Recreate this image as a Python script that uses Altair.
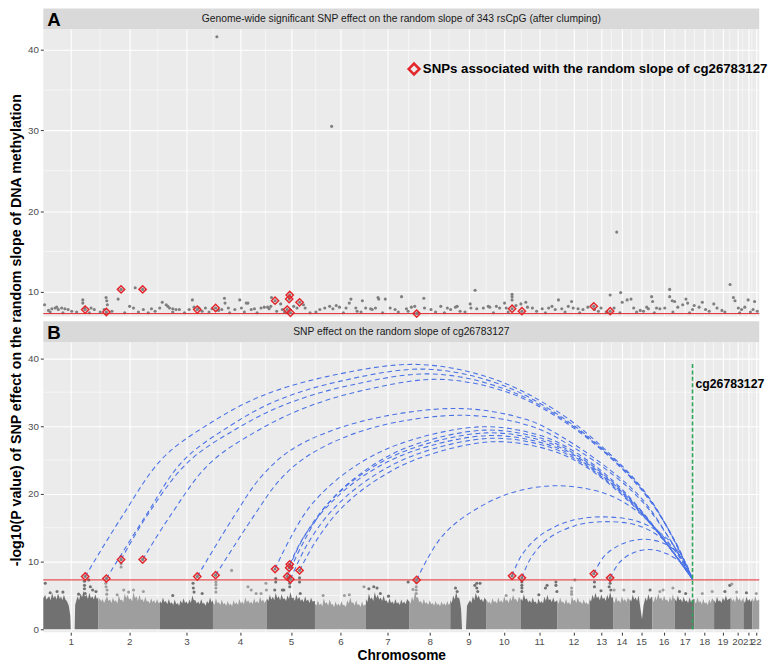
import altair as alt
import pandas as pd

# ---------------- chromosome layout (cumulative position units) ----------------
chrom_bounds = [38, 94, 157, 211, 266, 315, 367, 411, 453, 490, 525, 562, 595,
                619, 636, 659, 682, 702, 722, 739, 752, 761, 768]
chrom_labels = [str(i) for i in range(1, 23)]

threshold = 7.3
cpg_x = 700
cpg_top = 39.2
cpg_name = "cg26783127"

title_a = "Genome-wide significant SNP effect on the random slope of 343 rsCpG (after clumping)"
title_b = "SNP effect on the random slope of cg26783127"
legend_text = "SNPs associated with the random slope of cg26783127"
y_title = "-log10(P value) of SNP effect on the random slope of DNA methylation"

# ---------------- panel A: genome-wide significant SNPs ----------------
a_x = [39.3, 43.3, 46.7, 50, 51.7, 53.3, 56.7, 60, 63.3, 78.3, 78.3, 80, 86.7, 90,
       102, 102.7, 103.3, 100, 114.3, 126, 130, 131.7, 140, 148.3, 156.7, 159.3,
       163.3, 165, 166.7, 170, 173.3, 176.7, 186.7, 190, 191.7, 196.7, 203.3, 210,
       216.7, 220, 222.7, 223.3, 226.7, 233.3, 238.3, 240, 245, 246.7, 250, 253.3,
       260, 263.3, 266.7, 268.3, 270, 270.7, 280, 281.7, 293.3, 296.7, 303.3, 305,
       320, 325, 330, 333.3, 336.7, 340, 346.7, 350, 351.7, 356.7, 363.3, 366.7,
       371.7, 373.3, 376.7, 379.3, 380, 386.7, 391.7, 396.7,
       403.3, 408.3, 413.3, 416.7, 426, 426.7, 433.3, 443.3, 450, 453.3, 458.3, 460,
       473.3, 474, 478.3, 480, 486.7, 491.7, 493.3, 500, 503.3, 508.3, 510, 516, 516,
       516, 520, 525, 530, 531.7, 536.7, 546.7, 553.3, 556.7, 560, 563.3, 566.7,
       573.3, 576.7, 578.3, 583.3, 588.3, 593.3, 600, 606.7, 616, 620, 622.7, 626.7,
       628.3, 633.3, 637.3, 640, 646.7, 653.3, 655, 658.3, 659.3, 663.3, 666.7,
       671.7, 676.7, 676.7, 679.3, 681.7, 685, 690, 693.3, 695, 700, 701.7, 706.7,
       710, 713.3, 721.7, 725, 730, 738.3, 741.7, 743.3, 746.7, 750, 753.3, 756.7,
       761.7, 763.3, 215, 332]
a_y = [8.4, 7.7, 7.9, 8.0, 8.1, 7.8, 8.0, 7.9, 7.8, 9.0, 8.6, 8.0, 8.0, 7.8,
       9.3, 8.9, 8.4, 7.8, 9.1, 8.2, 8.0, 10.5, 7.8, 7.9, 8.0, 8.7,
       8.4, 8.2, 8.0, 7.9, 7.8, 7.8, 7.8, 9.0, 8.1, 8.0, 8.0, 7.9,
       7.7, 7.8, 9.2, 8.6, 8.0, 7.8, 9.0, 8.0, 8.6, 8.6, 7.8, 7.9,
       8.0, 8.1, 8.1, 7.9, 8.2, 9.3, 8.5, 7.8, 8.2, 8.0, 8.4, 8.0,
       7.8, 8.0, 8.2, 7.9, 8.3, 8.1, 8.0, 8.6, 9.1, 8.0, 8.9, 8.0,
       7.9, 7.8, 8.0, 9.3, 9.1, 9.1, 8.0, 7.8,
       9.4, 7.9, 8.1, 8.2, 9.2, 8.0, 7.8, 8.2, 8.0, 7.8, 8.1, 8.2,
       8.5, 8.0, 10.2, 7.9, 8.0, 8.2, 8.1, 8.2, 8.0, 8.6, 8.0, 9.7, 9.4,
       9.0, 8.3, 8.5, 8.7, 8.1, 8.0, 7.9, 8.0, 8.2, 7.8, 9.0, 7.9,
       8.2, 8.8, 8.0, 7.9, 7.8, 8.1, 7.8, 8.0, 9.6, 8.0, 17.4, 9.9,
       8.7, 9.0, 9.1, 8.0, 7.7, 8.1, 7.9, 9.4, 8.8, 8.0, 7.9,
       8.0, 10.3, 9.4, 8.9, 8.8, 8.1, 8.4, 9.1, 8.6, 7.8, 8.3, 8.1,
       8.7, 7.8, 8.5, 8.0, 7.7, 10.9, 9.3, 8.9, 8.0, 7.8, 8.1, 9.0,
       7.8, 8.8, 41.6, 30.5]
a_low_x = [45, 58, 67, 72, 85, 96, 108, 121, 135, 145, 152, 170, 182, 200, 207,
           228, 243, 256, 276, 284, 310, 316, 344, 358, 362, 384, 400, 410, 420,
           438, 447, 463, 468, 497, 512, 541, 550, 570, 585, 604, 612, 626, 643,
           650, 661, 680, 697, 717, 733, 748, 759, 766]
a_low_y = [7.5, 7.4, 7.6, 7.5, 7.4, 7.5, 7.6, 7.4, 7.5, 7.4, 7.6, 7.5, 7.4, 7.6, 7.5,
           7.4, 7.5, 7.4, 7.6, 7.5, 7.4, 7.5, 7.4, 7.6, 7.5, 7.4, 7.5, 7.6, 7.4,
           7.5, 7.4, 7.6, 7.5, 7.4, 7.5, 7.6, 7.4, 7.5, 7.4, 7.6, 7.5, 7.4, 7.5,
           7.6, 7.4, 7.5, 7.4, 7.6, 7.5, 7.4, 7.5, 7.6]

# SNPs associated with cg26783127 (red diamonds, both panels)
hit_x = [80.7, 102.3, 117.3, 139.3, 195, 213.7, 274.3, 286.7, 288.7, 289.3, 290,
         299.3, 418.7, 516, 526, 599.3, 616]
hit_y = [7.8, 7.5, 10.3, 10.3, 7.8, 8.0, 8.9, 7.8, 9.1, 9.6, 7.4, 8.7, 7.3, 7.9,
         7.6, 8.2, 7.6]

legend_pos = (416, 37.6)

# ---------------- panel B: Manhattan plot of cg26783127 ----------------
mass_c1 = [(38, 4.6), (40, 5.1), (41, 4.4), (44, 4.9), (45.5, 4.3), (47, 5.4), (48.5, 4.6), (50, 5.0),
           (51.5, 4.4), (53, 5.3), (55, 4.5), (56, 4.9), (57.5, 4.3), (59, 5.1), (60.5, 4.4),
           (62, 4.2), (64, 3.5), (65.5, 2.0), (66, 0), (70, 0), (70.5, 3.6), (72, 4.4), (73, 4.9),
           (74.5, 4.3), (76, 5.3), (77.5, 4.7), (79, 5.7), (80.5, 4.8), (82, 5.1), (83.5, 4.5),
           (85, 5.4), (86.5, 4.6), (88, 4.9), (89.5, 4.4), (91, 5.2), (92.5, 4.5), (94, 4.7)]
mass_c2 = [(94, 4.2), (95.5, 4.6), (97, 4.1), (98.5, 4.5), (100, 3.9), (101.5, 4.4), (103, 4.9),
           (104.5, 4.2), (106, 4.4), (107.5, 3.9), (109, 4.7), (110.5, 4.1), (112, 4.3), (113.5, 3.8),
           (115, 5.0), (116.5, 4.3), (118, 4.4), (119.5, 4.0), (121, 5.3), (122.5, 4.6), (124, 5.1),
           (125.5, 4.4), (127, 4.6), (128.5, 4.1), (130, 5.5), (131.5, 4.6), (133, 4.9), (134.5, 4.2),
           (136, 5.1), (137.5, 4.3), (139, 4.5), (140.5, 4.0), (142, 4.8), (143.5, 4.1), (145, 4.2),
           (146.5, 3.8), (148, 4.6), (149.5, 4.0), (151, 4.3), (152.5, 3.8), (154, 4.5), (155.5, 3.9),
           (157, 4.0)]
mass_c3 = [(157, 4.2), (158.5, 3.8), (160, 4.7), (161.5, 4.0), (163, 4.2), (164.5, 3.7), (166, 4.5),
           (167.5, 3.8), (169, 4.0), (170.5, 3.6), (172, 4.4), (173.5, 3.7), (175, 3.9), (176.5, 3.5),
           (178, 4.3), (179.5, 3.8), (181, 4.6), (182.5, 3.9), (184, 4.1), (185.5, 3.7), (187, 4.4),
           (188.5, 3.9), (190, 5.0), (191.5, 4.3), (193, 4.3), (194.5, 3.8), (196, 4.1), (197.5, 3.7),
           (199, 4.5), (200.5, 3.8), (202, 3.9), (203.5, 3.5), (205, 4.2), (206.5, 3.8), (208, 4.7),
           (209.5, 4.0), (211, 4.3)]
mass_c4 = [(211, 4.0), (212.5, 3.6), (214, 4.6), (215.5, 3.9), (217, 4.0), (218.5, 3.6), (220, 4.4),
           (221.5, 3.7), (223, 3.9), (224.5, 3.5), (226, 4.2), (227.5, 3.6), (229, 3.8), (230.5, 3.4),
           (232, 4.3), (233.5, 3.7), (235, 4.0), (236.5, 3.6), (238, 4.5), (239.5, 3.8), (241, 4.1),
           (242.5, 3.7), (244, 4.7), (245.5, 4.0), (247, 4.3), (248.5, 3.8), (250, 4.1), (251.5, 3.7),
           (253, 4.6), (254.5, 3.9), (256, 4.2), (257.5, 3.8), (259, 4.8), (260.5, 4.1), (262, 4.4),
           (263.5, 3.9), (266, 4.5)]
mass_c5 = [(266, 4.6), (267.5, 4.2), (269, 5.1), (270.5, 4.4), (272, 4.8), (273.5, 4.3), (275, 5.4),
           (276.5, 4.6), (278, 4.9), (279.5, 4.3), (281, 5.2), (282.5, 4.5), (284, 4.6), (285.5, 4.2),
           (287, 5.0), (288.5, 4.5), (290, 5.5), (291.5, 4.6), (293, 4.7), (294.5, 4.2), (296, 5.1),
           (297.5, 4.4), (299, 4.8), (300.5, 4.2), (302, 4.5), (303.5, 4.0), (305, 4.9), (306.5, 4.2),
           (308, 4.4), (309.5, 3.9), (311, 4.7), (312.5, 4.1), (315, 4.2)]
mass_c6 = [(315, 3.8), (316.5, 3.5), (318, 4.3), (319.5, 3.6), (321, 3.8), (322.5, 3.4), (324, 4.6),
           (325.5, 3.8), (327, 4.0), (328.5, 3.5), (330, 4.4), (331.5, 3.7), (333, 3.7), (334.5, 3.3),
           (336, 4.1), (337.5, 3.5), (339, 3.8), (340.5, 3.4), (342, 4.2), (343.5, 3.6), (345, 3.6),
           (346.5, 3.3), (348, 4.3), (349.5, 3.8), (351, 4.7), (352.5, 3.9), (354, 4.0), (355.5, 3.5),
           (357, 4.3), (358.5, 3.6), (360, 3.7), (361.5, 3.3), (363, 4.1), (364.5, 3.5), (367, 3.7)]
mass_c7 = [(367, 4.5), (368.5, 4.0), (370, 5.3), (371.5, 4.5), (373, 4.7), (374.5, 4.2), (376, 5.5),
           (377.5, 4.6), (379, 5.1), (380.5, 4.4), (382, 4.7), (383.5, 4.2), (385, 5.0), (386.5, 4.2),
           (388, 4.3), (389.5, 3.8), (391, 4.6), (392.5, 3.9), (394, 4.1), (395.5, 3.7), (397, 4.5),
           (398.5, 3.8), (400, 4.0), (401.5, 3.6), (403, 4.4), (404.5, 3.8), (406, 4.1), (407.5, 3.7),
           (409, 4.5), (411, 4.1)]
mass_c8 = [(411, 4.2), (412.5, 3.8), (414, 4.8), (415.5, 4.2), (417, 5.5), (418.5, 4.7), (420, 4.7),
           (421.5, 4.0), (423, 4.2), (424.5, 3.7), (426, 4.5), (427.5, 3.8), (429, 4.0), (430.5, 3.6),
           (432, 4.3), (433.5, 3.7), (435, 3.9), (436.5, 3.5), (438, 4.2), (439.5, 3.6), (441, 3.8),
           (442.5, 3.4), (444, 4.1), (445.5, 3.6), (447, 3.9), (448.5, 3.5), (450, 4.2), (451.5, 3.6),
           (453, 3.9)]
mass_c9 = [(453, 4.3), (454.5, 3.9), (456, 5.0), (457.5, 4.4), (459, 5.5), (460.5, 4.6), (462, 4.7),
           (463, 4.0), (464, 3.0), (465, 0), (469, 0), (470, 3.5), (471.5, 3.9), (473, 4.3), (474.5, 3.9),
           (476, 4.9), (477.5, 4.3), (479, 5.4), (480.5, 4.6), (482, 5.0), (483.5, 4.3), (485, 4.5),
           (486.5, 4.0), (488, 4.7), (490, 4.2)]
mass_c10 = [(490, 4.4), (491.5, 3.9), (493, 4.1), (494.5, 3.7), (496, 4.6), (497.5, 4.0), (499, 4.2),
            (500.5, 3.8), (502, 4.7), (503.5, 4.0), (505, 4.3), (506.5, 3.9), (508, 4.9), (509.5, 4.2),
            (511, 4.4), (512.5, 3.9), (514, 4.7), (515.5, 4.2), (517, 5.1), (518.5, 4.4), (520, 4.5),
            (521.5, 4.0), (523, 4.8), (525, 4.3)]
mass_c11 = [(525, 4.6), (526.5, 4.2), (528, 5.2), (529.5, 4.4), (531, 4.6), (532.5, 4.0), (534, 4.3),
            (535.5, 3.9), (537, 4.7), (538.5, 4.0), (540, 4.1), (541.5, 3.7), (543, 4.6), (544.5, 3.9),
            (546, 4.2), (547.5, 3.8), (549, 4.8), (550.5, 4.2), (552, 5.1), (553.5, 4.3), (555, 4.5),
            (556.5, 4.0), (558, 4.7), (559.5, 4.0), (562, 4.3)]
mass_c12 = [(562, 4.2), (563.5, 3.8), (565, 4.7), (566.5, 4.0), (568, 4.1), (569.5, 3.7), (571, 4.5),
            (572.5, 3.8), (574, 4.0), (575.5, 3.6), (577, 4.9), (578.5, 4.2), (580, 4.4), (581.5, 3.9),
            (583, 4.7), (584.5, 4.0), (586, 4.1), (587.5, 3.7), (589, 4.4), (590.5, 3.8), (592, 4.0),
            (593.5, 3.6), (595, 4.2)]
mass_c13 = [(595, 4.5), (596.5, 4.1), (598, 5.1), (599.5, 4.5), (601, 5.4), (602.5, 4.6), (604, 4.9),
            (605.5, 4.3), (607, 5.2), (608.5, 4.5), (610, 4.7), (611.5, 4.2), (613, 5.1), (614.5, 4.5),
            (616, 5.5), (617.5, 4.6), (619, 4.8)]
mass_c14 = [(619, 4.3), (620.5, 3.9), (622, 4.8), (623.5, 4.1), (625, 4.3), (626.5, 3.9), (628, 4.9),
            (629.5, 4.2), (631, 4.5), (632.5, 4.0), (634, 4.7), (636, 4.2)]
mass_c15 = [(636, 4.5), (637.5, 4.1), (639, 5.1), (640.5, 4.4), (642, 4.7), (643.5, 4.2), (645, 5.0),
            (646, 4.0), (647, 3.0), (648.5, 1.5), (650, 3.5), (651, 4.1), (652, 4.7), (653.5, 4.2),
            (655, 5.2), (656.5, 4.4), (658, 4.8), (659, 4.7)]
mass_c16 = [(659, 4.4), (660.5, 4.0), (662, 4.9), (663.5, 4.3), (665, 5.3), (666.5, 4.5), (668, 4.7),
            (669.5, 4.2), (671, 5.0), (672.5, 4.3), (674, 4.4), (675.5, 4.0), (677, 4.8), (678.5, 4.2),
            (680, 5.2), (681, 4.5), (682, 4.6)]
mass_c17 = [(682, 4.5), (683.5, 4.1), (685, 5.0), (686.5, 4.3), (688, 4.5), (689.5, 4.0), (691, 4.8),
            (692.5, 4.1), (694, 4.3), (695.5, 3.9), (697, 4.7), (698.5, 4.0), (700, 4.4), (702, 4.5)]
mass_c18 = [(702, 4.2), (703.5, 3.8), (705, 4.7), (706.5, 4.0), (708, 4.2), (709.5, 3.7), (711, 4.5),
            (712.5, 3.8), (714, 4.0), (715.5, 3.6), (717, 4.4), (718.5, 3.9), (720, 4.6), (722, 4.2)]
mass_c19 = [(722, 4.3), (723.5, 3.9), (725, 4.8), (726.5, 4.1), (728, 4.3), (729.5, 3.9), (731, 4.7),
            (732.5, 4.2), (734, 5.0), (735.5, 4.3), (737, 4.5), (739, 4.6)]
mass_c20 = [(739, 4.8), (740.5, 4.2), (742, 4.5), (743.5, 4.0), (745, 5.0), (746.5, 4.3), (748, 4.6),
            (749.5, 4.1), (752, 4.7)]
mass_c21 = [(752, 4.3), (753.5, 3.9), (755, 4.8), (756.5, 4.2), (758, 4.5), (759.5, 4.0), (761, 4.6)]
mass_c22 = [(761, 4.5), (762.5, 4.1), (764, 4.9), (765.5, 4.2), (768, 4.4)]
mass_all = [mass_c1, mass_c2, mass_c3, mass_c4, mass_c5, mass_c6, mass_c7, mass_c8, mass_c9,
            mass_c10, mass_c11, mass_c12, mass_c13, mass_c14, mass_c15, mass_c16, mass_c17,
            mass_c18, mass_c19, mass_c20, mass_c21, mass_c22]

b_pts_x = [40, 45, 52, 58, 74, 80, 80, 80, 80.7, 84.3, 86, 88.3, 91.7,
           101.7, 102, 103, 102.7, 117.3, 117.3, 113.3, 125, 130, 140, 120,
           190.7, 191, 191.7, 200, 170,
           214, 214, 214, 214, 230, 246.7, 250, 265, 265.5, 260, 255,
           275, 275, 274, 281.7, 283.3, 289.3, 289.3, 299.3, 299.3, 300,
           323.3, 350, 345, 365,
           370, 375, 378.3, 381.7, 390, 410,
           415, 418.3, 418.3, 418.3, 418.3,
           458.3, 460, 478, 480, 480, 481, 483.3,
           510, 517.3, 526, 526, 526, 526,
           543.3, 551.7, 550, 560.7, 560.7, 561.7,
           580, 576.7, 576.7, 576.7,
           600, 600, 606.7, 615, 616, 616.7,
           620, 630, 640, 656.7, 666.7, 670, 680, 686.7, 693,
           720, 710, 733, 738, 740, 745, 755, 765]
b_pts_y = [6.8, 5.4, 5.6, 5.5, 5.2, 7.1, 6.5, 6.0, 5.3, 7.3, 6.3, 5.8, 5.6,
           6.8, 6.3, 5.8, 5.2, 9.7, 9.2, 5.1, 5.5, 5.8, 5.6, 5.8,
           6.8, 6.1, 5.5, 5.3, 5.0,
           7.0, 6.6, 6.1, 5.5, 8.7, 6.3, 5.8, 6.8, 5.8, 5.3, 5.3,
           7.5, 7.0, 5.8, 5.8, 5.8, 6.8, 6.3, 7.6, 7.0, 5.3,
           5.0, 5.1, 5.0, 6.3,
           6.0, 6.3, 6.1, 5.3, 4.9, 7.0,
           5.9, 6.9, 6.3, 5.8, 5.3,
           6.1, 5.6, 6.5, 6.8, 6.1, 5.6, 6.8,
           5.0, 5.8, 7.0, 6.5, 6.1, 5.6,
           5.1, 6.5, 6.1, 7.0, 6.5, 5.6,
           7.3, 6.1, 5.6, 5.2,
           7.0, 6.3, 5.7, 6.3, 6.8, 5.8,
           5.8, 5.8, 5.6, 5.8, 5.6, 5.8, 6.1, 5.6, 5.3,
           5.6, 5.3, 5.6, 6.5, 6.7, 5.5, 5.4, 5.3]

# arcs (geom_curve connectors): SNP -> cg26783127
arc_01 = [(80.7, 7.8), (118, 16.6), (160, 25.3), (210, 30.6), (260, 34.4), (327, 37.3), (420, 39.1),
          (500, 36.8), (567, 31.7), (620, 25.3), (653, 20.0), (680, 13.5), (700, 7.4)]
arc_02 = [(102.3, 7.5), (141.7, 16.6), (180, 24.8), (228, 30.0), (275, 33.7), (340, 36.6), (428, 38.4),
          (505, 36.1), (570, 31.0), (622, 24.8), (655, 19.5), (681, 13.2), (700, 7.4)]
arc_03 = [(117.3, 10.3), (143, 16.6), (185, 24.6), (235, 29.6), (285, 33.2), (350, 36.0), (434, 37.7),
          (510, 35.4), (573, 30.5), (624, 24.4), (656, 19.2), (682, 13.0), (700, 7.4)]
arc_04 = [(139.3, 10.3), (166.7, 16.6), (207, 24.4), (255, 29.2), (305, 32.7), (365, 35.3), (442, 36.9),
          (515, 34.8), (576, 30.0), (626, 24.0), (657, 18.9), (683, 12.8), (700, 7.4)]
arc_05 = [(195, 7.8), (232, 16.6), (260, 22.5), (293, 26.7), (360, 30.6), (460, 32.6), (530, 31.0),
          (567, 28.4), (617, 23.4), (650, 19.0), (678, 13.0), (700, 7.4)]
arc_06 = [(213.7, 8.0), (252, 16.6), (280, 22.2), (312, 26.0), (375, 29.8), (467, 31.6), (535, 30.0),
          (570, 27.6), (619, 22.8), (651, 18.5), (679, 12.8), (700, 7.4)]
arc_07 = [(274.3, 8.9), (290, 13.5), (312, 18.5), (350, 23.5), (400, 27.3), (485, 29.9), (545, 28.6),
          (580, 26.2), (620, 21.8), (652, 16.8), (678, 11.8), (700, 7.4)]
arc_08 = [(286.7, 7.8), (303, 12.8), (325, 18.0), (360, 22.8), (408, 26.8), (488, 29.4), (548, 28.1),
          (582, 25.7), (622, 21.3), (653, 16.5), (679, 11.6), (700, 7.4)]
arc_09 = [(288.7, 9.1), (302, 13.2), (326, 18.2), (362, 22.8), (410, 26.5), (490, 29.0), (550, 27.7),
          (584, 25.3), (623, 21.0), (654, 16.3), (680, 11.5), (700, 7.4)]
arc_10 = [(289.3, 9.6), (303, 13.5), (328, 18.2), (365, 22.7), (413, 26.2), (492, 28.6), (552, 27.3),
          (586, 24.9), (624, 20.7), (655, 16.0), (680, 11.4), (700, 7.4)]
arc_11 = [(290, 7.4), (307, 12.5), (332, 17.5), (368, 22.0), (416, 25.7), (494, 28.2), (554, 26.9),
          (588, 24.5), (625, 20.4), (656, 15.8), (681, 11.3), (700, 7.4)]
arc_12 = [(299.3, 8.7), (315, 12.8), (340, 17.6), (375, 21.8), (422, 25.3), (497, 27.7), (556, 26.4),
          (590, 24.1), (626, 20.1), (657, 15.6), (681, 11.2), (700, 7.4)]
arc_13 = [(418.7, 7.3), (430, 10.5), (445, 13.8), (467, 16.6), (510, 19.9), (560, 21.2), (610, 20.1),
          (640, 17.8), (665, 14.5), (685, 11.0), (700, 7.4)]
arc_14 = [(516, 7.9), (526, 11.0), (545, 13.9), (575, 16.0), (610, 16.6), (645, 15.9), (670, 13.9),
          (688, 11.0), (700, 7.4)]
arc_15 = [(526, 7.6), (535, 10.5), (552, 13.3), (580, 15.3), (612, 15.9), (645, 15.3), (670, 13.3),
          (688, 10.6), (700, 7.4)]
arc_16 = [(599.3, 8.2), (610, 10.8), (628, 12.6), (650, 13.3), (672, 12.6), (690, 10.5), (700, 7.4)]
arc_17 = [(616, 7.6), (625, 9.8), (638, 11.2), (655, 11.8), (673, 11.2), (690, 9.6), (700, 7.4)]
arcs_all = [arc_01, arc_02, arc_03, arc_04, arc_05, arc_06, arc_07, arc_08, arc_09, arc_10,
            arc_11, arc_12, arc_13, arc_14, arc_15, arc_16, arc_17]

# ---------------- styling ----------------
W, HS, HA, HB = 730, 21, 293, 296
GAP = 5
FONT = "Liberation Sans"
BG = "#EBEBEB"
DARK, LIGHT = "#717171", "#9E9E9E"
RED = "#E3262B"
BLUE = "#4A72E6"
GREEN = "#2FA65A"
PAD = {"left": 0, "top": -6, "right": 2, "bottom": 0}

# ---------------- derived tables ----------------
centers = [(a + b) / 2 for a, b in zip(chrom_bounds[:-1], chrom_bounds[1:])]
minor_x = [(a + b) / 2 for a, b in zip(centers[:-1], centers[1:])]


def chrom_index(x):
    for i in range(22):
        if x < chrom_bounds[i + 1]:
            return i
    return 21


label_expr = "".join(f"datum.value < {b} ? '{lab}' : "
                     for b, lab in zip(chrom_bounds[1:-1], chrom_labels[:-1])) + f"'{chrom_labels[-1]}'"

dfA = pd.DataFrame({"x": a_x + a_low_x, "y": a_y + a_low_y})
dfHit = pd.DataFrame({"x": hit_x, "y": hit_y})
dfMinorX = pd.DataFrame({"x": minor_x})

mass_rows = []
for ci, prof in enumerate(mass_all):
    for x, y in prof:
        mass_rows.append({"x": x, "y": y, "chrom": ci + 1, "shade": "d" if ci % 2 == 0 else "l"})
dfMass = pd.DataFrame(mass_rows)

dfB = pd.DataFrame({"x": b_pts_x, "y": b_pts_y})
dfB["shade"] = ["d" if chrom_index(x) % 2 == 0 else "l" for x in b_pts_x]

arc_rows = []
for ai, arc in enumerate(arcs_all):
    for k, (x, y) in enumerate(arc):
        arc_rows.append({"x": x, "y": y, "arc": ai, "k": k})
dfArc = pd.DataFrame(arc_rows)

xscale = alt.Scale(domain=[chrom_bounds[0], chrom_bounds[-1]], nice=False, zero=False)
axisA = alt.Axis(values=centers, labels=False, ticks=False, domain=False, grid=True, title=None)
axisB = alt.Axis(values=centers, labelExpr=label_expr, labelOverlap=False, labelFlush=False,
                 grid=True, domain=False, title="Chromosome", titleFontSize=14,
                 titleFontWeight="bold", titleColor="black", titlePadding=2)
yscaleA = alt.Scale(domain=[6.95, 42.55], nice=False, zero=False)
yscaleB = alt.Scale(domain=[-0.42, 42.42], nice=False, zero=False)
yaxisA = alt.Axis(values=[10, 20, 30, 40], grid=True, domain=False, title=None)
yaxisB = alt.Axis(values=[0, 10, 20, 30, 40], grid=True, domain=False, title=None)

XA = alt.X("x:Q", scale=xscale, axis=axisA)
YA = alt.Y("y:Q", scale=yscaleA, axis=yaxisA)
XB = alt.X("x:Q", scale=xscale, axis=axisB)
YB = alt.Y("y:Q", scale=yscaleB, axis=yaxisB)
YBarea = alt.Y("y:Q", scale=yscaleB, axis=yaxisB, stack=None)
shade_color = alt.Color("shade:N", scale=alt.Scale(domain=["d", "l"], range=[DARK, LIGHT]), legend=None)


def strip(title, letter, top_gap):
    d = pd.DataFrame({"t": [title], "l": [letter]})
    h = HS + top_gap
    rect = alt.Chart(d).mark_rect(color="#D9D9D9").encode(
        x=alt.value(0), x2=alt.value(W), y=alt.value(top_gap), y2=alt.value(h))
    txt = alt.Chart(d).mark_text(fontSize=10.5, color="#1A1A1A", font=FONT).encode(
        x=alt.value(W / 2), y=alt.value(top_gap + HS / 2), text="t:N")
    let = alt.Chart(d).mark_text(fontSize=19, fontWeight="bold", color="black", align="left",
                                 font=FONT).encode(
        x=alt.value(4), y=alt.value(top_gap + HS / 2 + 1), text="l:N")
    return alt.layer(rect, txt, let).properties(width=W, height=h)


# ---------------- panel A ----------------
minorA_v = alt.Chart(dfMinorX).mark_rule(color="white", strokeWidth=0.55).encode(x=XA)
minorA_h = alt.Chart(pd.DataFrame({"y": [15, 25, 35]})).mark_rule(color="white", strokeWidth=0.55).encode(y=YA)
threshA = alt.Chart(pd.DataFrame({"y": [threshold]})).mark_rule(color=RED, strokeWidth=1).encode(y=YA)
ptsA = alt.Chart(dfA).mark_circle(size=10, color="#7F7F7F", opacity=1).encode(x=XA, y=YA)
hitA_dot = alt.Chart(dfHit).mark_circle(size=10, color="#7F7F7F", opacity=1).encode(x=XA, y=YA)
hitA = alt.Chart(dfHit).mark_point(shape="diamond", filled=False, color=RED, strokeWidth=1.5,
                                   size=55, opacity=1).encode(x=XA, y=YA)
dfLeg = pd.DataFrame({"x": [legend_pos[0]], "y": [legend_pos[1]], "t": [legend_text]})
legD = alt.Chart(dfLeg).mark_point(shape="diamond", filled=False, color=RED, strokeWidth=2.6,
                                   size=120, opacity=1).encode(x=XA, y=YA)
legT = alt.Chart(dfLeg).mark_text(align="left", baseline="middle", dx=9, fontSize=13.5,
                                  fontWeight="bold", color="black", font=FONT).encode(x=XA, y=YA, text="t:N")
panelA = alt.layer(minorA_v, minorA_h, ptsA, threshA, hitA_dot, hitA, legD, legT).properties(
    width=W, height=HA, view=alt.ViewBackground(fill=BG, stroke=None))

# ---------------- panel B ----------------
minorB_v = alt.Chart(dfMinorX).mark_rule(color="white", strokeWidth=0.55).encode(x=XB)
minorB_h = alt.Chart(pd.DataFrame({"y": [5, 15, 25, 35]})).mark_rule(color="white", strokeWidth=0.55).encode(y=YB)
mass = alt.Chart(dfMass).mark_area(interpolate="linear", opacity=1).encode(
    x=XB, y=YBarea, color=shade_color, detail="chrom:N")
ptsB = alt.Chart(dfB).mark_circle(size=10, opacity=1).encode(x=XB, y=YB, color=shade_color)
threshB = alt.Chart(pd.DataFrame({"y": [threshold]})).mark_rule(color=RED, strokeWidth=1).encode(y=YB)
arcs = alt.Chart(dfArc).mark_line(interpolate="catmull-rom", strokeDash=[5, 3.5], strokeWidth=1.1,
                                  color=BLUE).encode(x=XB, y=YB, detail="arc:N", order=alt.Order("k:Q"))
dfCpg = pd.DataFrame({"x": [cpg_x], "y": [0], "y2": [cpg_top], "ty": [36.2], "t": [cpg_name]})
green = alt.Chart(dfCpg).mark_rule(color=GREEN, strokeDash=[4, 2.5], strokeWidth=1.6).encode(
    x=XB, y=YB, y2="y2:Q")
cpgT = alt.Chart(dfCpg).mark_text(align="left", baseline="middle", dx=3, fontSize=12.5, fontWeight="bold",
                                  color="black", font=FONT).encode(
    x=XB, y=alt.Y("ty:Q", scale=yscaleB, axis=yaxisB), text="t:N")
hitB_dot = alt.Chart(dfHit).mark_circle(size=10, color="#7F7F7F", opacity=1).encode(x=XB, y=YB)
hitB = alt.Chart(dfHit).mark_point(shape="diamond", filled=False, color=RED, strokeWidth=1.5,
                                   size=55, opacity=1).encode(x=XB, y=YB)
yT = alt.Chart(pd.DataFrame({"t": [y_title]})).mark_text(
    angle=270, align="center", baseline="middle", fontSize=14.5, fontWeight="bold",
    color="black", font=FONT).encode(x=alt.value(-27), y=alt.value(-12), text="t:N")
panelB = alt.layer(minorB_v, minorB_h, mass, ptsB, threshB, arcs, green, hitB_dot, hitB, cpgT, yT).properties(
    width=W, height=HB, view=alt.ViewBackground(fill=BG, stroke=None))

chart = alt.vconcat(
    strip(title_a, "A", 0), panelA, strip(title_b, "B", GAP), panelB,
    spacing=0, bounds="flush"
).properties(padding=PAD).configure(
    font=FONT, padding=PAD
).configure_view(stroke=None).configure_axis(
    labelFont=FONT, labelFontSize=10, labelColor="#4D4D4D", tickColor="#333333", tickSize=3,
    labelPadding=2, gridColor="white", gridWidth=1.1, titleFont=FONT
)

chart.save("out.html", embed_options={"renderer": "svg", "actions": False})
